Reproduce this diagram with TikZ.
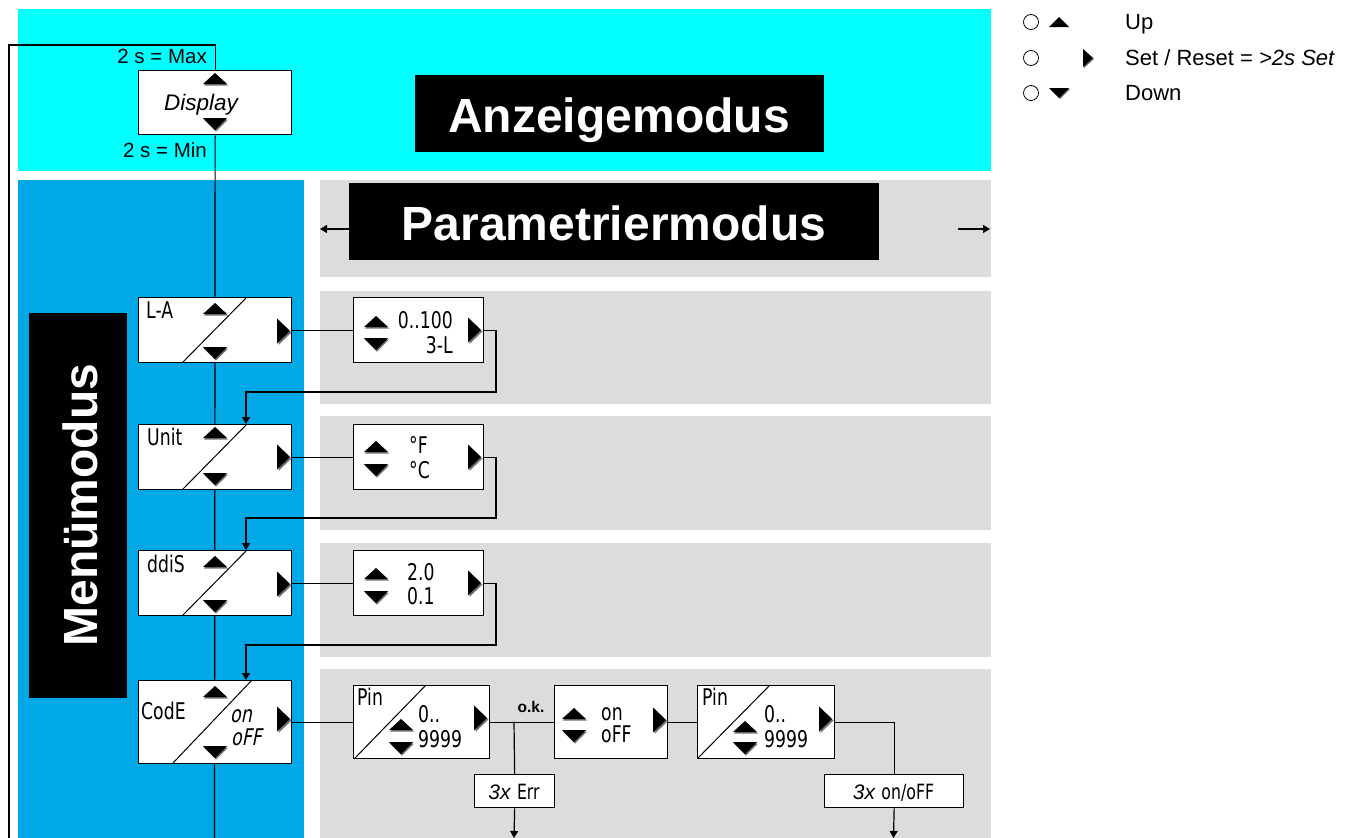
\documentclass[tikz,border=0pt]{standalone}
\usepackage{fontspec}
\setmainfont{Liberation Sans}
\newfontfamily\lcd[FakeStretch=0.75]{DejaVu Sans}
\newfontfamily\lcdit[FakeStretch=0.75,FakeSlant=0.2]{DejaVu Sans}
\usetikzlibrary{arrows.meta,calc}
\pgfdeclarelayer{bg}
\pgfsetlayers{bg,main}
\definecolor{cyanbg}{HTML}{00FFFF}
\definecolor{menubg}{HTML}{00A8E6}
\definecolor{graybg}{HTML}{DCDCDC}
\tikzset{
  ln/.style={line width=1.2pt},
  arr/.style={line width=1.2pt,-{Triangle[length=7pt,width=8pt]}},
  box/.style={draw, fill=white, line width=1.3pt, inner sep=0pt, anchor=north west},
  blackbox/.style={fill=black, inner sep=0pt, anchor=north west},
  titletext/.style={text=white, font=\bfseries\fontsize{48}{48}\selectfont, inner sep=0pt, anchor=base},
  lbl/.style={font=\fontsize{20.5}{20.5}\selectfont, inner sep=0pt},
  leg/.style={font=\fontsize{22}{22}\selectfont, inner sep=0pt, anchor=base west},
  lcdt/.style={font=\lcd\fontsize{23}{23}\selectfont, inner sep=0pt},
  lcdi/.style={font=\lcdit\fontsize{23}{23}\selectfont, inner sep=0pt},
  shade/.style={fill=black!55},
}
\newcommand\TU[2]{\fill[shade] (#1-11,#2+12.5) -- (#1+13,#2+12.5) -- (#1+1,#2+1) -- cycle;
  \fill (#1-12,#2+11) -- (#1+12,#2+11) -- (#1,#2) -- cycle;}
\newcommand\TD[2]{\fill[shade] (#1-11,#2+1.5) -- (#1+13,#2+1.5) -- (#1+1,#2+13.5) -- cycle;
  \fill (#1-12,#2) -- (#1+12,#2) -- (#1,#2+12) -- cycle;}
\newcommand\TR[2]{\fill[shade] (#1+1.5,#2-11) -- (#1+1.5,#2+14) -- (#1+14.5,#2+1.5) -- cycle;
  \fill (#1,#2-12.5) -- (#1,#2+12.5) -- (#1+13,#2) -- cycle;}
\begin{document}
\begin{tikzpicture}[x=1pt,y=-1pt]
\path[use as bounding box] (0,0) rectangle (1363,838);
% ---------- panels
\begin{pgfonlayer}{bg}
\fill[cyanbg] (18,9) rectangle (991,171);
\fill[menubg] (18,180) rectangle (304,838);
\fill[graybg] (320,180) rectangle (991,277);
\fill[graybg] (320,291) rectangle (991,404);
\fill[graybg] (320,416) rectangle (991,530);
\fill[graybg] (320,543) rectangle (991,657);
\fill[graybg] (320,669) rectangle (991,838);
\end{pgfonlayer}
% ---------- titles
\node[blackbox, minimum width=409pt, minimum height=77pt] (anzbox) at (415,75) {};
\node[titletext] (anz) at (619,132) {Anzeigemodus};
\node[blackbox, minimum width=530pt, minimum height=77pt] (parbox) at (349,183) {};
\node[titletext] (par) at (614,240) {Parametriermodus};
\node[blackbox, minimum width=98pt, minimum height=385pt] (menbox) at (29,313) {};
\node[titletext, rotate=90] (men) at (97,505) {Menümodus};
\coordinate (al1) at (349,229);
\coordinate (al2) at (320,229);
\coordinate (ar1) at (958,229);
\coordinate (ar2) at (990,229);
\draw[arr] (al1) -- (al2);
\draw[arr] (ar1) -- (ar2);
% ---------- boxes
\node[box, minimum width=153pt, minimum height=64pt] (disp) at (138,70) {};
\node[box, minimum width=153pt, minimum height=65pt] (la) at (138,297) {};
\node[box, minimum width=153pt, minimum height=65pt] (un) at (138,424) {};
\node[box, minimum width=153pt, minimum height=65pt] (dd) at (138,550) {};
\node[box, minimum width=153pt, minimum height=83pt] (code) at (138,680) {};
\node[box, minimum width=130pt, minimum height=65pt] (pla) at (353,297) {};
\node[box, minimum width=130pt, minimum height=65pt] (pun) at (353,424) {};
\node[box, minimum width=130pt, minimum height=65pt] (pdd) at (353,550) {};
\node[box, minimum width=136pt, minimum height=73pt] (pin1) at (353,685) {};
\node[box, minimum width=113pt, minimum height=73pt] (onoff) at (554,685) {};
\node[box, minimum width=137pt, minimum height=73pt] (pin2) at (697,685) {};
\node[box, minimum width=80pt, minimum height=33pt] (err) at (474,774) {};
\node[box, minimum width=139pt, minimum height=33pt] (onf) at (824,774) {};
% ---------- connectors
\coordinate (tl) at (9,45);
\coordinate (bl) at (9,838);
\coordinate (mb) at (214.5,838);
\begin{pgfonlayer}{bg}
\draw[ln] (disp.south) -- (mb);
\end{pgfonlayer}
\draw[ln] (disp.north) |- (tl) -- (bl);
\coordinate (r1) at (496,392);
\coordinate (r2) at (496,518);
\coordinate (r3) at (496,645);
\coordinate (t2) at (246,424);
\coordinate (t3) at (246,550);
\coordinate (t4) at (246,680);
\draw[ln] (la.east) -- (pla.west);
\draw[ln] (un.east) -- (pun.west);
\draw[ln] (dd.east) -- (pdd.west);
\draw[arr] (pla.east) -| (r1) -| (t2);
\draw[arr] (pun.east) -| (r2) -| (t3);
\draw[arr] (pdd.east) -| (r3) -| (t4);
\draw[ln] (code.east) -- (pin1.west);
\draw[ln] (pin1.east) -- (onoff.west);
\draw[ln] (onoff.east) -- (pin2.west);
\coordinate (j1) at (514,721.5);
\coordinate (b1) at (514,838);
\coordinate (b2) at (893.5,838);
\draw[ln] (j1) -- (err.north);
\draw[arr] (err.south) -- (b1);
\draw[ln] (pin2.east) -| (onf.north);
\draw[arr] (onf.south) -- (b2);
% ---------- diagonals
\draw[line width=1pt] (183,362) -- (247,297);
\draw[line width=1pt] (183,489) -- (247,424);
\draw[line width=1pt] (183,615) -- (247,550);
\draw[line width=1pt] (173,763) -- (252,680);
\draw[line width=1pt] (355,758) -- (426,685);
\draw[line width=1pt] (698,758) -- (770,685);
% ---------- triangles
\TU{215}{73}\TD{215}{118}
\TU{215}{303}\TD{215}{347}\TR{277}{331}
\TU{215}{427}\TD{215}{473}\TR{277}{457}
\TU{215}{556}\TD{215}{600}\TR{277}{584}
\TU{215}{686}\TD{215}{746}\TR{277}{719}
\TU{376}{316}\TD{376}{338}\TR{468}{330}
\TU{376}{441}\TD{376}{464}\TR{468}{457}
\TU{376}{568}\TD{376}{591}\TR{468}{583}
\TU{401}{719}\TD{401}{742}\TR{474}{718}
\TU{574}{708}\TD{574}{730}\TR{653}{720}
\TU{745}{721}\TD{745}{742}\TR{819}{719}
% ---------- labels
\node[lbl, anchor=base east] (mx) at (207,63) {2 s = Max};
\node[lbl, anchor=base east] (mn) at (207,157) {2 s = Min};
\node[lbl, anchor=base, font=\itshape\fontsize{22.5}{22.5}\selectfont] (dtxt) at (201,110) {Display};
\node[lcdt, anchor=base west] (tla) at (146,318) {L-A};
\node[lcdt, anchor=base west] (tun) at (147,445) {Unit};
\node[lcdt, anchor=base west] (tdd) at (147,572) {ddiS};
\node[lcdt, anchor=base west] (tco) at (141,719) {CodE};
\node[lcdi, anchor=base west] (ton) at (230,722) {on};
\node[lcdi, anchor=base west] (tof) at (231,745) {oFF};
\node[lcdt, anchor=base east] (p1a) at (453,328) {0..100};
\node[lcdt, anchor=base east] (p1b) at (453,353) {3-L};
\node[lcdt, anchor=base west] (p2a) at (409,453) {°F};
\node[lcdt, anchor=base west] (p2b) at (409,478) {°C};
\node[lcdt, anchor=base west] (p3a) at (407,580) {2.0};
\node[lcdt, anchor=base west] (p3b) at (407,604) {0.1};
\node[lcdt, anchor=base west] (pn1) at (357,705) {Pin};
\node[lcdt, anchor=base west] (pn1a) at (418,722) {0..};
\node[lcdt, anchor=base west] (pn1b) at (418,747) {9999};
\node[lcdt, anchor=base west] (oo1) at (601,720) {on};
\node[lcdt, anchor=base west] (oo2) at (601,742) {oFF};
\node[lcdt, anchor=base west] (pn2) at (702,705) {Pin};
\node[lcdt, anchor=base west] (pn2a) at (764,722) {0..};
\node[lcdt, anchor=base west] (pn2b) at (764,747) {9999};
\node[lbl, anchor=base, font=\bfseries\fontsize{15.5}{15.5}\selectfont] (ok) at (531,712) {o.k.};
\node[lbl, anchor=base, font=\fontsize{21}{21}\selectfont] (terr) at (514,799) {\textit{3x} {\lcd Err}};
\node[lbl, anchor=base, font=\fontsize{21}{21}\selectfont] (tonf) at (893.5,799) {\textit{3x} {\lcd on/oFF}};
% ---------- legend
\node[circle, draw, line width=0.8pt, minimum size=15pt, inner sep=0pt] (c1) at (1031,22) {};
\node[circle, draw, line width=0.8pt, minimum size=15pt, inner sep=0pt] (c2) at (1031,58) {};
\node[circle, draw, line width=0.8pt, minimum size=15pt, inner sep=0pt] (c3) at (1031,93) {};
\fill (1049,27) -- (1069,27) -- (1059,17) -- cycle;
\fill[shade] (1084,50) -- (1084,68) -- (1094,59) -- cycle;
\fill (1083,49) -- (1083,67) -- (1093,58) -- cycle;
\fill[shade] (1050,89) -- (1070,89) -- (1060,99) -- cycle;
\fill (1049,88) -- (1069,88) -- (1059,98) -- cycle;
\node[leg] (lu) at (1125,29) {Up};
\node[leg] (ls) at (1125,65) {Set / Reset = \textit{>2s Set}};
\node[leg] (ld) at (1125,100) {Down};
\end{tikzpicture}
\end{document}
